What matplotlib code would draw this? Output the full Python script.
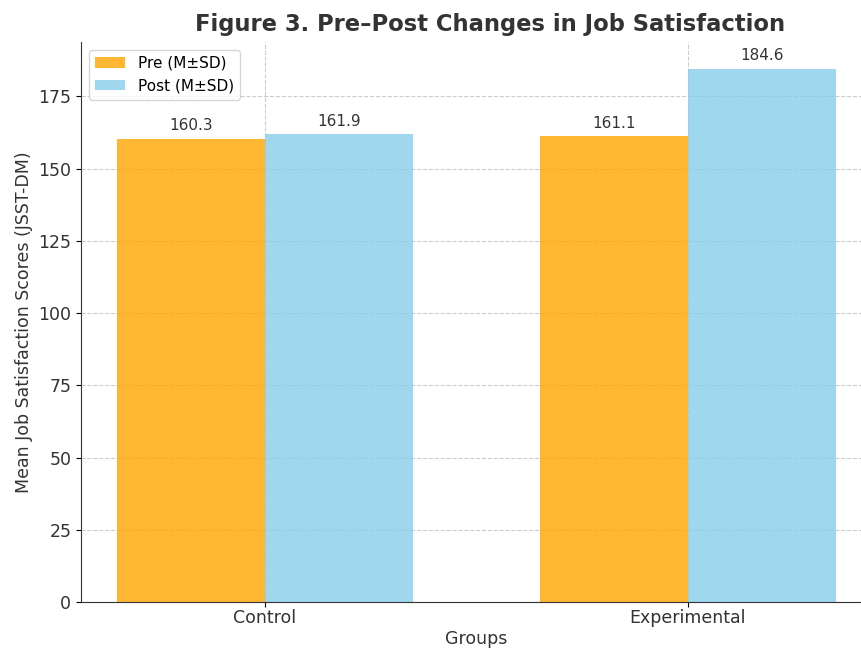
import matplotlib.pyplot as plt
import numpy as np

groups = ["Control", "Experimental"]
pre_means = [160.3, 161.1]
post_means = [161.9, 184.6]

fig = plt.figure(figsize=(8.62, 6.51), dpi=100)
ax = fig.add_axes([81 / 862, 49 / 651, 791 / 862, 560 / 651])

x = np.arange(len(groups))
width = 0.35
bars_pre = ax.bar(x - width / 2, pre_means, width, color="orange", alpha=0.8,
                  label="Pre (M±SD)", zorder=2)
bars_post = ax.bar(x + width / 2, post_means, width, color="skyblue", alpha=0.8,
                   label="Post (M±SD)", zorder=2)

for bars in (bars_pre, bars_post):
    for b in bars:
        ax.annotate(f"{b.get_height():.1f}",
                    xy=(b.get_x() + b.get_width() / 2, b.get_height()),
                    xytext=(0, 4), textcoords="offset points",
                    ha="center", va="bottom", fontsize=11, color="#333333")

ax.set_xticks(x)
ax.set_xticklabels(groups, fontsize=12.5, color="#333333")
ax.tick_params(axis="x", pad=1.5)
ax.tick_params(axis="y", labelsize=12.5, labelcolor="#333333")
ax.set_xlabel("Groups", fontsize=12.5, color="#333333", labelpad=2)
ax.set_ylabel("Mean Job Satisfaction Scores (JSST-DM)", fontsize=12.5, color="#333333")
ax.set_title("Figure 3. Pre–Post Changes in Job Satisfaction", fontsize=16.3,
             fontweight="bold", color="#333333", pad=8, x=(490 - 81) / 791)

ax.grid(True, linestyle="--", color="#cccccc", linewidth=0.8, zorder=0)
ax.set_axisbelow(True)
ax.spines["top"].set_visible(False)
ax.spines["right"].set_visible(False)
ax.spines["left"].set_color("#333333")
ax.spines["bottom"].set_color("#333333")
ax.set_xlim(-0.435, 1.435)
ax.set_ylim(0, 193.8)

ax.legend(loc="upper left", fontsize=11, framealpha=0.8)

fig.savefig("out.png", dpi=100)
